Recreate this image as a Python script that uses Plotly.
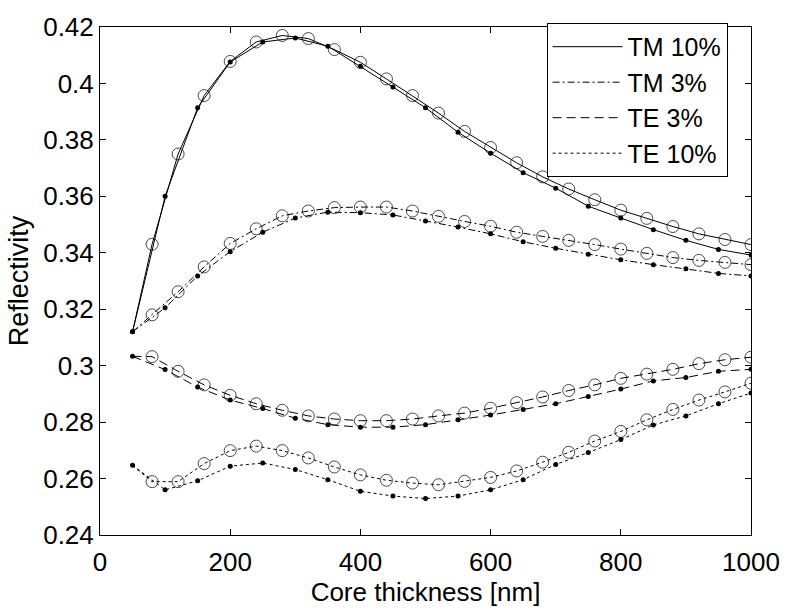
import plotly.graph_objects as go

# x positions (nm)
x_circ = [50, 80, 120, 160, 200, 240, 280, 320, 360, 400, 440, 480, 520,
          560, 600, 640, 680, 720, 760, 800, 840, 880, 920, 960, 1000]
x_dot = [50, 100, 150, 200, 250, 300, 350, 400, 450, 500,
         550, 600, 650, 700, 750, 800, 850, 900, 950, 1000]

# TM 10%
tm10_circ = [0.312, 0.343, 0.375, 0.3957, 0.4078, 0.4147, 0.417, 0.4159, 0.4120, 0.4075,
             0.4016, 0.3957, 0.3895, 0.383, 0.3773, 0.3719, 0.3669, 0.3626, 0.3588, 0.3551,
             0.3522, 0.3493, 0.3467, 0.3447, 0.3429]
tm10_dot = [0.312, 0.360, 0.3914, 0.4076, 0.4147, 0.4161, 0.4132, 0.4061, 0.3987, 0.3914,
            0.3827, 0.3753, 0.3684, 0.3629, 0.3565, 0.3523, 0.3482, 0.3444, 0.3412, 0.3392]

# TM 3%
tm3_circ = [0.312, 0.318, 0.3262, 0.335, 0.3433, 0.3485, 0.3531, 0.3548, 0.356, 0.3562,
            0.3562, 0.3548, 0.3529, 0.3511, 0.3494, 0.3473, 0.3458, 0.3444, 0.3429, 0.3413,
            0.3398, 0.3383, 0.3373, 0.3366, 0.3358]
tm3_dot = [0.312, 0.3205, 0.3318, 0.3404, 0.3473, 0.3523, 0.3544, 0.3542, 0.3534, 0.3513,
           0.3491, 0.3467, 0.3439, 0.3416, 0.3395, 0.3375, 0.3358, 0.3343, 0.3327, 0.3318]

# TE 3%
te3_circ = [0.3033, 0.3032, 0.298, 0.2932, 0.2895, 0.2865, 0.2842, 0.2822, 0.2811, 0.2805,
            0.2805, 0.2811, 0.2822, 0.2832, 0.2849, 0.2869, 0.2889, 0.2912, 0.2932, 0.2955,
            0.297, 0.2987, 0.3007, 0.3021, 0.303]
te3_dot = [0.3033, 0.2986, 0.2924, 0.2878, 0.2848, 0.2814, 0.2791, 0.2782, 0.2782, 0.2791,
           0.2808, 0.2825, 0.2845, 0.2865, 0.2891, 0.2917, 0.2946, 0.2958, 0.298, 0.2987]

# TE 10%
te10_circ = [0.2647, 0.2589, 0.2589, 0.2653, 0.2699, 0.2715, 0.2699, 0.2673, 0.2641, 0.2613,
             0.2594, 0.2584, 0.2578, 0.259, 0.2604, 0.2627, 0.2658, 0.2693, 0.2733, 0.2767,
             0.2808, 0.2845, 0.2878, 0.2907, 0.2938]
te10_dot = [0.2647, 0.256, 0.2592, 0.2644, 0.2655, 0.2632, 0.2596, 0.2555, 0.2538, 0.2529,
            0.2538, 0.256, 0.2596, 0.265, 0.2692, 0.2738, 0.279, 0.2822, 0.2865, 0.2903]

series = [
    ("TM 10%", tm10_circ, tm10_dot, "solid"),
    ("TM 3%", tm3_circ, tm3_dot, "7px,3px,2px,3px"),
    ("TE 3%", te3_circ, te3_dot, "9px,5px"),
    ("TE 10%", te10_circ, te10_dot, "3px,3px"),
]

FONT = "Liberation Sans, Arial, sans-serif"
fig = go.Figure()

circ_sizes = [0] + [12] * (len(x_circ) - 1)

for name, yc, yd, dash in series:
    fig.add_trace(go.Scatter(
        x=x_circ, y=yc, mode="lines+markers", showlegend=False,
        line=dict(color="black", width=1, dash=dash),
        marker=dict(symbol="circle-open", size=circ_sizes, color="black",
                    line=dict(width=1, color="black")),
    ))
    fig.add_trace(go.Scatter(
        x=x_dot, y=yd, mode="lines+markers", showlegend=False,
        line=dict(color="black", width=1, dash=dash),
        marker=dict(symbol="circle", size=5, color="black"),
    ))

for name, yc, yd, dash in series:
    fig.add_trace(go.Scatter(
        x=[None], y=[None], mode="lines", name=name,
        line=dict(color="black", width=1, dash=dash),
    ))

fig.update_layout(
    width=792, height=611,
    margin=dict(l=100, r=30, t=18, b=72),
    paper_bgcolor="white", plot_bgcolor="white",
    font=dict(family=FONT, size=26, color="black"),
    legend=dict(
        x=0.686, y=1.008, xanchor="left", yanchor="top",
        bgcolor="white", bordercolor="black", borderwidth=1,
        font=dict(family=FONT, size=25, color="black"),
        tracegroupgap=0, itemwidth=70,
    ),
    xaxis=dict(
        range=[0, 1000], tickvals=[0, 200, 400, 600, 800, 1000],
        ticks="inside", ticklen=6, tickcolor="black", mirror="allticks",
        showline=True, linecolor="black", linewidth=1, showgrid=False, zeroline=False,
        tickfont=dict(family=FONT, size=26), ticklabelstandoff=4,
        title=dict(text="Core thickness [nm]", font=dict(family=FONT, size=26), standoff=4),
    ),
    yaxis=dict(
        range=[0.24, 0.42],
        tickvals=[0.24, 0.26, 0.28, 0.3, 0.32, 0.34, 0.36, 0.38, 0.4, 0.42],
        ticktext=["0.24", "0.26", "0.28", "0.3", "0.32", "0.34", "0.36", "0.38", "0.4", "0.42"],
        ticks="inside", ticklen=6, tickcolor="black", mirror="allticks",
        showline=True, linecolor="black", linewidth=1, showgrid=False, zeroline=False,
        tickfont=dict(family=FONT, size=26), ticklabelstandoff=0,
        title=dict(text="Reflectivity", font=dict(family=FONT, size=27), standoff=6),
    ),
)

fig.write_html("out.html")
